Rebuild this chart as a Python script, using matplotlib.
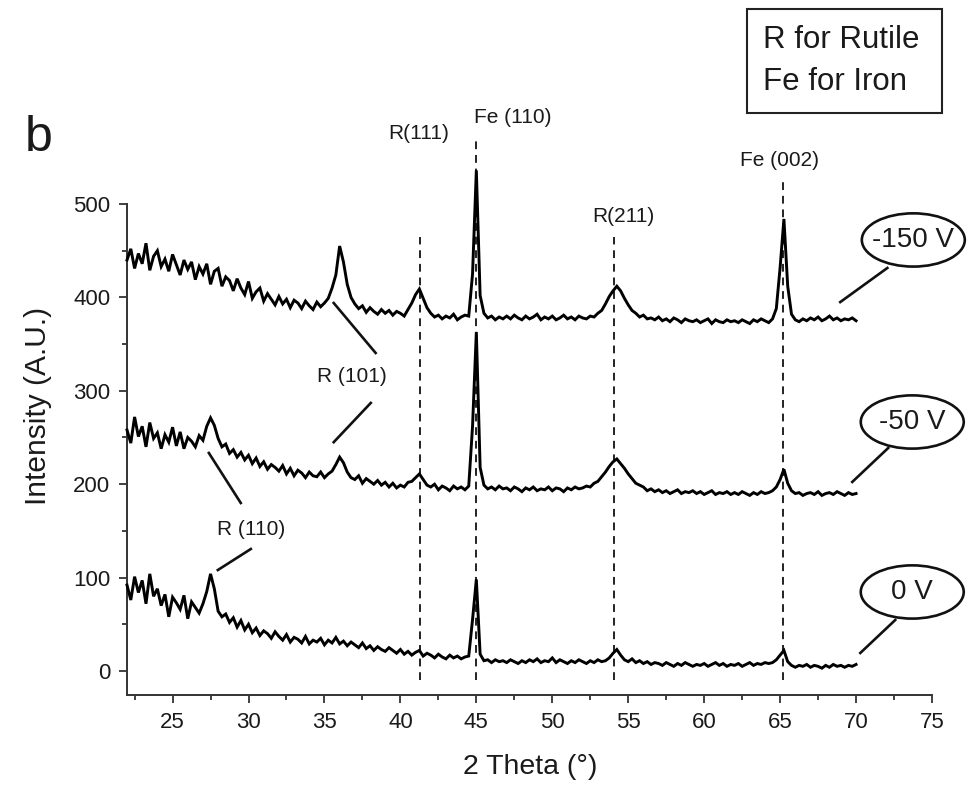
import numpy as np
import matplotlib
matplotlib.use("Agg")
import matplotlib.pyplot as plt
from matplotlib.patches import Ellipse, Rectangle
from matplotlib.ticker import MultipleLocator

plt.rcParams['font.family'] = ['Liberation Sans', 'DejaVu Sans']

# 2-theta sampling grid (deg), 0.25 deg step from 22 to 70
two_theta = np.linspace(22.0, 70.0, 193)

# -150 V pattern
i_150 = [
    440, 452, 431, 447, 436, 458, 429, 444, 450, 433,
    441, 428, 446, 435, 424, 440, 430, 438, 419, 433,
    425, 436, 414, 428, 431, 412, 422, 418, 407, 420,
    410, 403, 417, 399, 406, 410, 396, 404, 398, 392,
    401, 393, 398, 389, 397, 394, 388, 396, 391, 387,
    395, 390, 394, 399, 410, 424, 455, 438, 414, 400,
    393, 388, 391, 384, 389, 385, 382, 387, 383, 386,
    381, 385, 383, 380, 387, 394, 403, 409, 399, 389,
    383, 379, 381, 377, 380, 378, 382, 376, 379, 381,
    380, 425, 536, 402, 383, 378, 380, 376, 379, 377,
    380, 377, 381, 378, 376, 380, 377, 379, 382, 376,
    379, 377, 380, 376, 378, 381, 377, 379, 376, 380,
    378, 377, 380, 379, 383, 386, 393, 401, 407, 412,
    407, 399, 392, 386, 383, 379, 381, 377, 378, 376,
    379, 375, 377, 374, 378, 376, 373, 377, 375, 374,
    376, 373, 375, 377, 372, 376, 374, 373, 376, 374,
    375, 373, 376, 374, 372, 376, 374, 377, 375, 373,
    377, 388, 432, 484, 412, 382, 376, 374, 377, 375,
    378, 376, 379, 375, 377, 380, 376, 378, 375, 377,
    376, 378, 375,
]

# -50 V pattern
i_50 = [
    258, 244, 272, 251, 262, 240, 266, 249, 255, 238,
    253, 245, 261, 241, 256, 238, 250, 246, 240, 252,
    247, 262, 271, 263, 249, 240, 243, 233, 237, 229,
    234, 226, 231, 222, 228, 219, 224, 216, 221, 218,
    214, 220, 211, 217, 209, 215, 212, 207, 213, 209,
    208, 213, 207, 211, 214, 221, 229, 223, 213, 207,
    205, 209, 201, 206, 203, 200, 204, 199, 202, 197,
    201, 196, 199, 197, 202, 203, 207, 211, 205, 199,
    197, 200, 194, 198, 196, 193, 198, 195, 197, 194,
    198, 262, 363, 218, 199, 195, 197, 194, 198, 195,
    196, 193, 197, 195, 192, 196, 194, 197, 193, 195,
    194, 197, 193, 196, 195, 192, 196, 194, 197, 195,
    196, 198, 197, 201, 203, 208, 213, 219, 224, 227,
    222, 217, 211, 206, 201, 199, 197, 193, 195, 192,
    194, 191, 193, 190, 192, 194, 190, 192, 191, 193,
    190, 192, 189, 191, 193, 189, 191, 190, 192, 189,
    191, 189, 192, 190, 188, 191, 189, 192, 190, 191,
    193, 197, 205, 216, 201, 193, 190, 191, 188, 190,
    191, 189, 192, 188, 190, 191, 189, 192, 190, 188,
    191, 189, 190,
]

# 0 V pattern
i_0 = [
    92, 76, 101, 84, 97, 72, 104, 80, 88, 70,
    82, 58, 79, 73, 66, 81, 56, 74, 68, 62,
    72, 85, 104, 88, 64, 58, 61, 52, 57, 47,
    54, 44, 50, 41, 46, 38, 43, 40, 35, 42,
    37, 33, 39, 31, 36, 34, 30, 37, 29, 33,
    31, 35, 28, 33, 30, 36, 29, 32, 27, 31,
    28, 25, 30, 24, 27, 22, 26, 23, 21, 25,
    22, 19, 23, 18, 21, 17, 20, 22, 16, 19,
    17, 14, 18, 15, 13, 17, 14, 16, 13, 15,
    16, 55, 98, 18, 11, 12, 9, 12, 10, 11,
    9, 12, 10, 8, 11, 9, 12, 10, 13, 9,
    11, 10, 14, 9, 12, 10, 8, 11, 9, 12,
    10, 8, 11, 9, 12, 10, 11, 14, 19, 23,
    17, 12, 10, 13, 9, 11, 8, 10, 7, 9,
    8, 6, 9, 7, 5, 8, 6, 9, 7, 5,
    7, 6, 8, 5, 7, 9, 6, 8, 5, 7,
    6, 8, 5, 7, 9, 6, 8, 7, 9, 8,
    9, 12, 17, 22, 10, 6, 4, 6, 5, 7,
    4, 6, 5, 3, 6, 4, 7, 5, 6, 4,
    6, 5, 7,
]

series_labels = ["-150 V", "-50 V", "0 V"]

# reference peak positions (dashed lines)
ref_lines = [41.3, 45.0, 54.05, 65.2]
ref_tops = [465, 569, 465, 526]

fig = plt.figure(figsize=(9.79, 7.86), dpi=100)
ax = fig.add_axes([127 / 979, 91 / 786, 805 / 979, 491 / 786])

for x0, top in zip(ref_lines, ref_tops):
    ax.plot([x0, x0], [-10, top], color='#222222', lw=1.4,
            linestyle=(0, (4, 3)), clip_on=False, zorder=1)

for y in (i_150, i_50, i_0):
    ax.plot(two_theta, y, color='black', lw=2.1, clip_on=False, zorder=3,
            solid_joinstyle='miter')

ax.set_xlim(22, 75)
ax.set_ylim(-25.7, 500)
ax.xaxis.set_major_locator(MultipleLocator(5))
ax.xaxis.set_minor_locator(MultipleLocator(2.5))
ax.yaxis.set_major_locator(MultipleLocator(100))
ax.yaxis.set_minor_locator(MultipleLocator(50))
ax.set_xticks(np.arange(25, 76, 5))
ax.set_yticks(np.arange(0, 501, 100))
for s in ('top', 'right'):
    ax.spines[s].set_visible(False)
for s in ('left', 'bottom'):
    ax.spines[s].set_linewidth(1.4)
    ax.spines[s].set_color('#333333')
ax.tick_params(which='major', direction='out', length=6, width=1.3,
               labelsize=16, pad=6, colors='#333333', labelcolor='#1a1a1a')
ax.tick_params(which='minor', direction='out', length=3.5, width=1.3,
               colors='#333333')

fig.text(530 / 979, 1 - 767 / 786, "2 Theta (°)", fontsize=20.5,
         ha='center', va='center', color='#1a1a1a')
fig.text(38 / 979, 1 - 406 / 786, "Intensity (A.U.)", fontsize=21.5,
         ha='center', va='center', rotation=90, color='#1a1a1a')

# peak labels
txt_kw = dict(fontsize=15, ha='center', va='center', color='#1a1a1a')
ax.text(47.4, 593, "Fe (110)", **txt_kw)
ax.text(41.2, 576, "R(111)", **txt_kw)
ax.text(64.95, 547, "Fe (002)", **txt_kw)
ax.text(54.7, 487, "R(211)", **txt_kw)
ax.text(36.8, 315, "R (101)", **txt_kw)
ax.text(30.15, 151, "R (110)", **txt_kw)

lk = dict(color='#111111', lw=1.9, clip_on=False)
ax.plot([35.61, 38.37], [394, 340.5], **lk)
ax.plot([38.05, 35.61], [287, 245], **lk)
ax.plot([27.39, 29.49], [233.4, 179.9], **lk)
ax.plot([30.15, 27.98], [130.6, 108.1], **lk)

# ellipse callouts
ell = [(73.77, 461.5, (68.96, 395), (72.06, 431.5)),
       (73.70, 266.6, (69.75, 202.4), (72.12, 238.8)),
       (73.70, 84.6, (70.28, 19.3), (72.58, 54.6))]
for lab, (cx, cy, p0, p1) in zip(series_labels, ell):
    e = Ellipse((cx, cy), 6.78, 57, fill=False, edgecolor='#111111',
                lw=1.9, clip_on=False)
    ax.add_patch(e)
    ax.text(cx, cy, lab, fontsize=20, ha='center', va='center', color='#1a1a1a')
    ax.plot([p0[0], p1[0]], [p0[1], p1[1]], **lk)

# key box
fig.patches.append(Rectangle((747 / 979, 1 - 113 / 786), 195 / 979, 104 / 786,
                             transform=fig.transFigure, fill=False,
                             edgecolor='#222222', lw=1.5))
fig.text(763 / 979, 1 - 40 / 786, "R for Rutile", fontsize=22.5,
         ha='left', va='center', color='#1a1a1a')
fig.text(763 / 979, 1 - 82 / 786, "Fe for Iron", fontsize=22.5,
         ha='left', va='center', color='#1a1a1a')

fig.text(39 / 979, 1 - 138 / 786, "b", fontsize=36, ha='center',
         va='center', color='#1a1a1a')

fig.savefig("out.png", dpi=100)
